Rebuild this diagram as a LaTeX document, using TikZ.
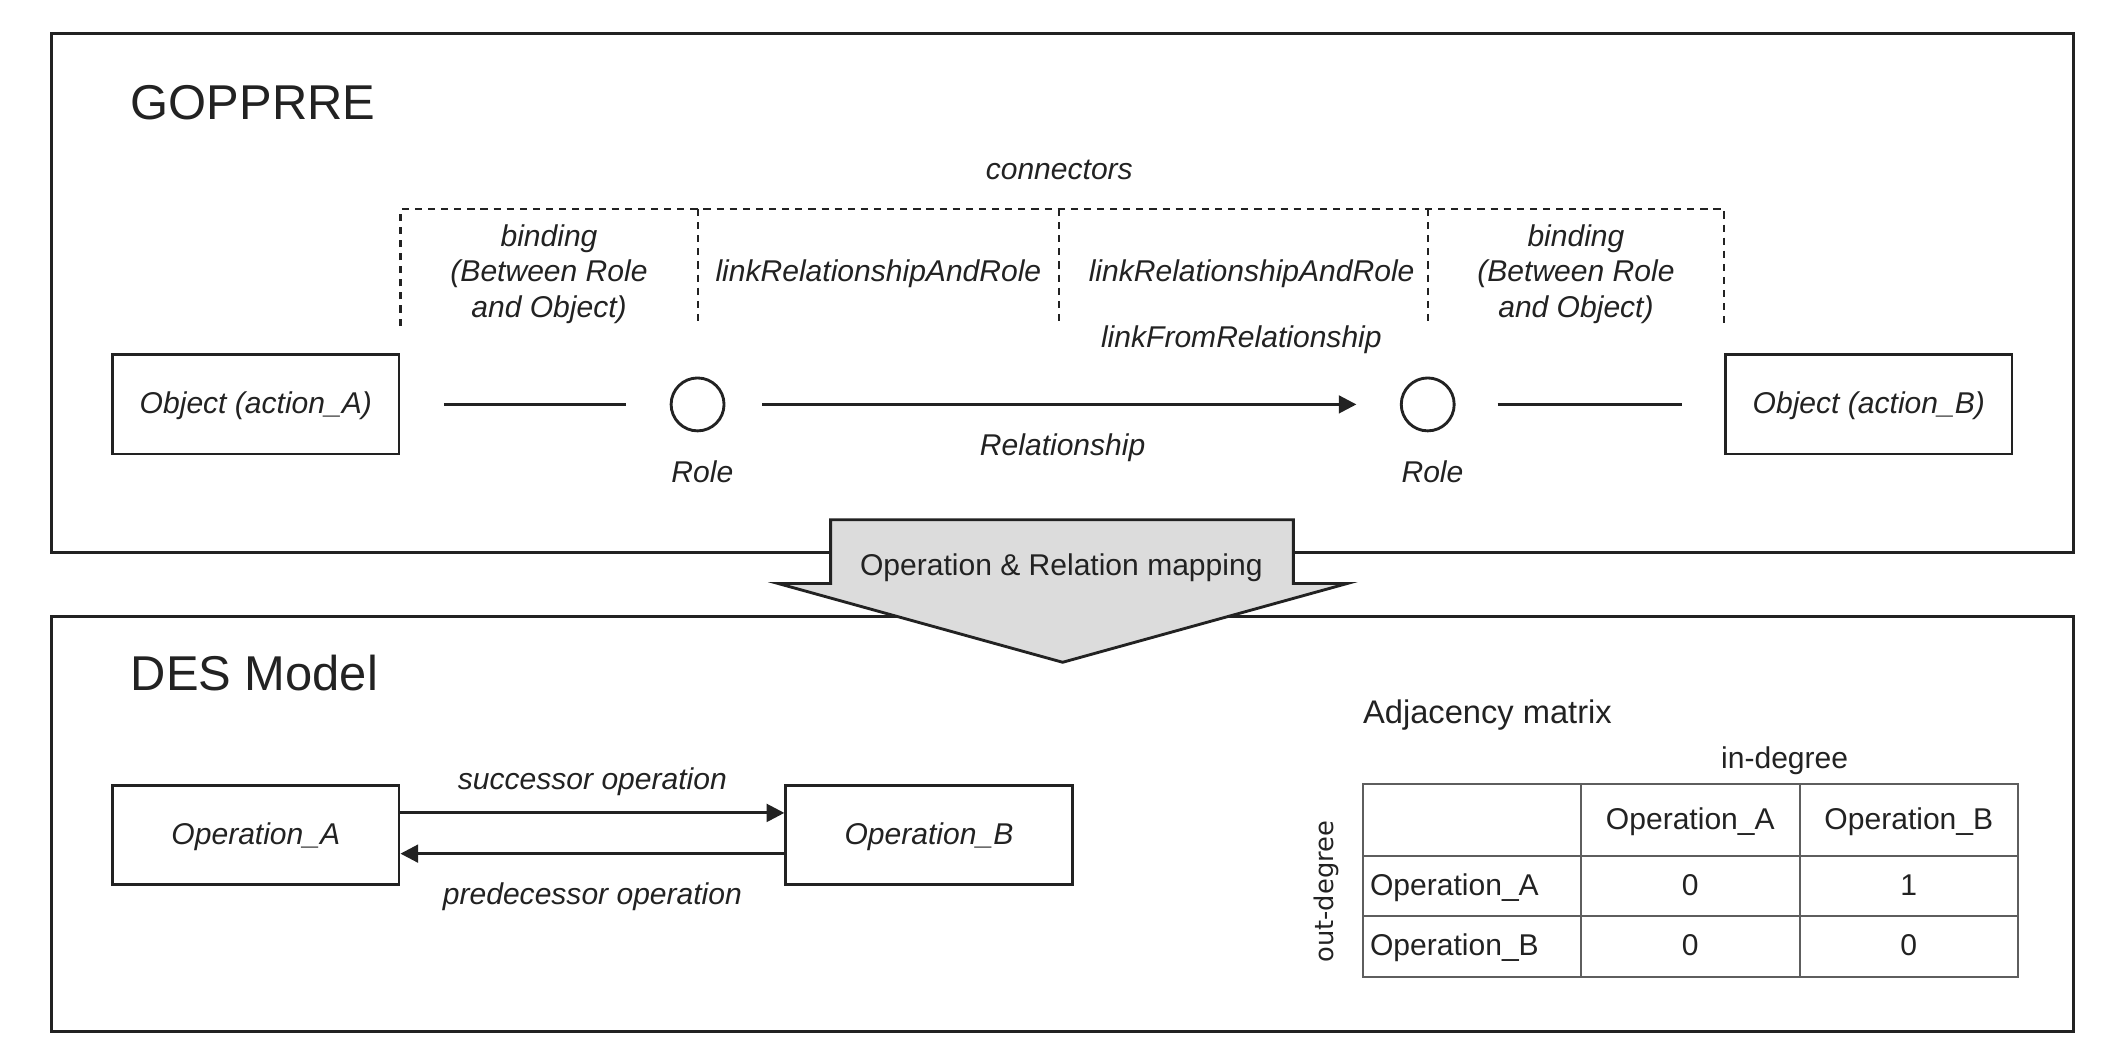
\documentclass[tikz,border=0pt]{standalone}
\usepackage{fontspec}
\setmainfont{Liberation Sans}
\newfontfamily\dejavu{DejaVu Sans}
\usetikzlibrary{positioning,arrows.meta,calc}
\definecolor{tinta}{HTML}{222222}
\definecolor{gristabla}{HTML}{5E5E5E}
\definecolor{relleno}{HTML}{DCDCDC}
\newcommand{\tamano}{\fontsize{12.6}{14.75}\selectfont}

\begin{document}
\begin{tikzpicture}[
      text=tinta,
      marco/.style={draw=tinta, line width=1.2pt},
      caja/.style={draw=tinta, line width=1.2pt, minimum width=4.22cm,
                   minimum height=1.46cm, font=\tamano\itshape,
                   text height=1.0em, text depth=0.2em},
      rol/.style={circle, draw=tinta, line width=1.2pt, minimum size=0.78cm,
                  inner sep=0pt},
      lin/.style={draw=tinta, line width=1.2pt},
      f/.style={lin, -{Triangle[length=2.6mm, width=2.6mm]}},
      sep/.style={shorten <=#1, shorten >=#1},
      et/.style={font=\tamano\itshape, align=center},
      tx/.style={font=\tamano},
      ct/.style={tx, text height=0.95em, text depth=0.2em},
      trazo/.style={draw=tinta, line width=0.9pt, dash pattern=on 3pt off 2.5pt},
      titulo/.style={font=\fontsize{20.5}{24}\selectfont, anchor=base west,
                     inner sep=0pt},
      celda/.style={draw=gristabla, line width=0.8pt, minimum width=3.22cm},
      mapa/.style={draw=tinta, line width=1.2pt, fill=relleno, line join=miter},
    ]
    \useasboundingbox (0,0) rectangle (31.36,15.68);

    % =============== MARCOS ==============================================
    \draw[marco] (0.76,7.54) rectangle (30.56,15.18);
    \draw[marco] (0.76,0.48) rectangle (30.56,6.60);
    \node[titulo] (tgop) at (1.92,13.92) {GOPPRRE};
    \node[titulo] (tdes) at (1.92,5.50) {DES Model};

    % =============== GOPPRRE =============================================
    % --- Fila de objetos, roles y relación ---
    \node[caja] (objA) at (3.77,9.72) {Object (action\_A)};
    \node[rol]  (rolA) at (10.28,9.72) {};
    \node[rol]  (rolB) at (21.04,9.72) {};
    \node[caja] (objB) at (27.54,9.72) {Object (action\_B)};
    \node[et, below=0.3cm of rolA, xshift=0.07cm] (erolA) {Role};
    \node[et, below=0.3cm of rolB, xshift=0.07cm] (erolB) {Role};

    \draw[lin, sep=0.64cm] (objA) -- (rolA);
    \draw[f, shorten <=0.54cm, shorten >=0.64cm] (rolA) --
      coordinate[midway, xshift=-0.05cm] (relM)
      node[midway, below=0.29cm, et] {Relationship}
      node[pos=0.765, above=0.61cm, et] {linkFromRelationship}
      (rolB);
    \draw[lin, sep=0.62cm] (rolB) -- (objB);

    % --- Llave de conectores (punteada) ---
    \coordinate (sup) at (0,12.60);
    \coordinate (inf) at (0,10.88);
    \coordinate (etq) at (0,11.64);
    \draw[trazo] (objA.east |- inf) -- (objA.east |- sup)
      -- (objB.west |- sup) -- (objB.west |- inf);
    \foreach \c in {rolA, relM, rolB}
      \draw[trazo] (\c |- sup) -- (\c |- inf);
    \node[et, above=0.3cm] (econ) at (relM |- sup) {connectors};

    \path (objA.east |- etq) -- node[et] {binding\\(Between Role\\and Object)} (rolA |- etq);
    \path (rolA |- etq) -- node[et] {linkRelationshipAndRole} (relM |- etq);
    \path (relM |- etq) -- node[et, xshift=0.12cm] {linkRelationshipAndRole} (rolB |- etq);
    \path (rolB |- etq) -- node[et] {binding\\(Between Role\\and Object)} (objB.west |- etq);

    % =============== FLECHA DE MAPEO =====================================
    \draw[mapa] (12.24,8.02) -- (19.06,8.02) -- (19.06,7.08) -- (19.85,7.08)
      -- (15.66,5.92) -- (11.47,7.08) -- (12.24,7.08) -- cycle;
    \node[tx, anchor=base] (mapeo) at (15.64,7.20) {Operation \& Relation mapping};

    % =============== DES MODEL ===========================================
    \node[caja] (opA) at (3.77,3.37)  {Operation\_A};
    \node[caja] (opB) at (13.69,3.37) {Operation\_B};
    \draw[f] ([yshift=0.33cm]opA.east) --
      node[et, above=0.11cm] {successor operation} ([yshift=0.33cm]opB.west);
    \draw[f] ([yshift=-0.27cm]opB.west) --
      node[et, below=0.29cm] {predecessor operation} ([yshift=-0.27cm]opA.east);

    % --- Matriz de adyacencia ---
    \foreach \fila/\y/\h in {0/3.59/1.06, 1/2.62/0.88, 2/1.73/0.90}
      \foreach \col/\x in {0/21.69, 1/24.91, 2/28.13}
        \node[celda, minimum height=\h cm] (c\fila\col) at (\x,\y) {};

    \node[ct] at (c01) {Operation\_A};
    \node[ct] at (c02) {Operation\_B};
    \node[ct, anchor=west] at (c10.west) {Operation\_A};
    \node[ct, anchor=west] at (c20.west) {Operation\_B};
    \node[ct] at (c11) {0};
    \node[ct] at (c12) {1};
    \node[ct] at (c21) {0};
    \node[ct] at (c22) {0};

    \node[font=\fontsize{13.7}{16}\selectfont, anchor=base west, inner sep=0pt]
      (tady) at (20.08,5.02) {Adjacency matrix};
    \node[tx, anchor=base] (ein) at (26.30,4.36) {in-degree};
    \node[font=\dejavu\fontsize{10.8}{13}\selectfont, rotate=90]
      (eout) at (19.54,2.54) {out-degree};
  \end{tikzpicture}
\end{document}
